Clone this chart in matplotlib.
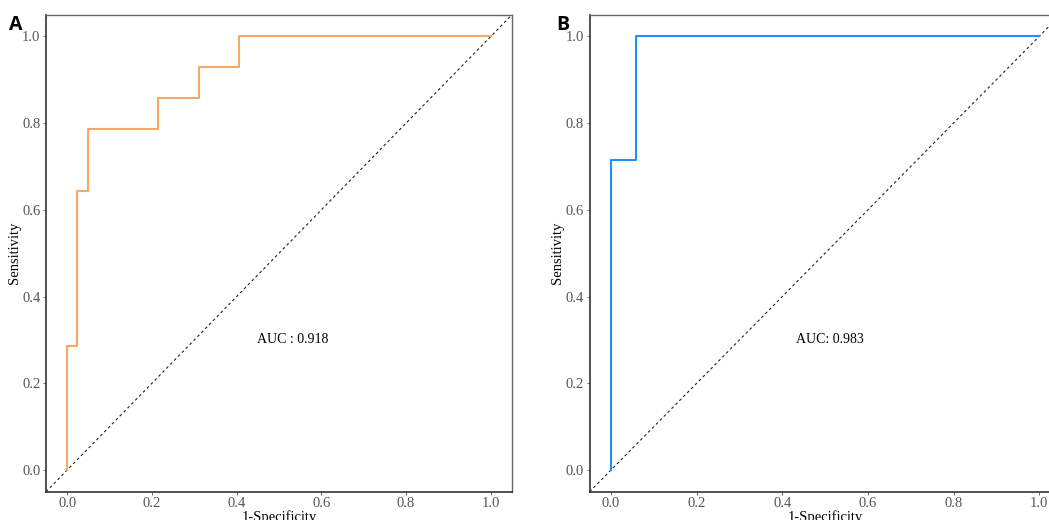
import matplotlib
matplotlib.use("Agg")
import matplotlib.pyplot as plt

# ROC step coordinates (1-specificity, sensitivity)
fpr_a = [0.0, 0.0, 0.024, 0.024, 0.048, 0.048, 0.214, 0.214, 0.310, 0.310, 0.405, 0.405, 1.0]
tpr_a = [0.0, 0.286, 0.286, 0.643, 0.643, 0.786, 0.786, 0.857, 0.857, 0.929, 0.929, 1.0, 1.0]
auc_a = "AUC : 0.918"

fpr_b = [0.0, 0.0, 0.059, 0.059, 1.0]
tpr_b = [0.0, 0.714, 0.714, 1.0, 1.0]
auc_b = "AUC: 0.983"

ticks = [0.0, 0.2, 0.4, 0.6, 0.8, 1.0]
tick_labels = ["0.0", "0.2", "0.4", "0.6", "0.8", "1.0"]

W, H = 1049, 520
fig = plt.figure(figsize=(W / 100, H / 100), dpi=100)

serif = "Liberation Serif"


def roc_panel(rect, fpr, tpr, color, auc_text, auc_xy, tag, tag_xy):
    ax = fig.add_axes(rect)
    ax.set_xlim(-0.05, 1.05)
    ax.set_ylim(-0.05, 1.05)
    ax.plot([-0.05, 1.05], [-0.05, 1.05], color="#222222", lw=0.8,
            ls=(0, (2.5, 2.5)), zorder=1)
    ax.plot(fpr, tpr, color=color, lw=1.5, zorder=2)
    ax.set_xticks(ticks)
    ax.set_yticks(ticks)
    ax.set_xticklabels(tick_labels, family=serif, fontsize=10.5, color="#555555")
    ax.set_yticklabels(tick_labels, family=serif, fontsize=10.5, color="#555555")
    ax.tick_params(direction="out", length=2.5, width=0.6, color="#555555", pad=1.5)
    for side in ("left", "bottom"):
        ax.spines[side].set_color("#333333")
        ax.spines[side].set_linewidth(1.2)
    for side in ("top", "right"):
        ax.spines[side].set_color("#666666")
        ax.spines[side].set_linewidth(1.0)
    ax.set_xlabel("1-Specificity", family=serif, fontsize=10.5, labelpad=0)
    ax.set_ylabel("Sensitivity", family=serif, fontsize=10.5, labelpad=1)
    ax.text(auc_xy[0], auc_xy[1], auc_text, family=serif, fontsize=10,
            ha="center", va="center")
    fig.text(tag_xy[0] / W, 1 - tag_xy[1] / H, tag, family="Open Sans",
             fontweight="bold", fontsize=14, ha="center", va="center")
    return ax


roc_panel([46 / W, (H - 491.7) / H, 466 / W, 477 / H], fpr_a, tpr_a,
          "#F6A864", auc_a, (0.533, 0.30), "A", (16, 25))
roc_panel([589.6 / W, (H - 491.7) / H, 471 / W, 477 / H], fpr_b, tpr_b,
          "#1E90FF", auc_b, (0.51, 0.30), "B", (563, 25))

fig.savefig("out.png", dpi=100)
